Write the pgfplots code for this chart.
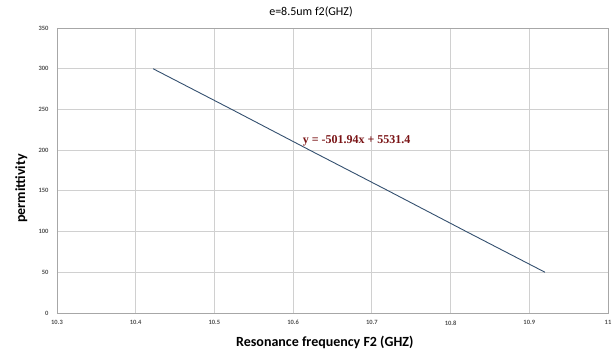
\documentclass[border=0pt]{standalone}
\usepackage{pgfplots}
\pgfplotsset{compat=1.18}
\usepackage{fontspec}
\setmainfont{Carlito}
\newfontfamily\eqfont{Liberation Serif}
\definecolor{linecol}{HTML}{34506F}
\definecolor{eqcol}{HTML}{7A1416}
\definecolor{gridcol}{HTML}{D0D0D0}
\definecolor{tickcol}{HTML}{505050}
\begin{document}
\begin{tikzpicture}
\path[use as bounding box] (-57pt,-39pt) rectangle (557pt,313pt);
\begin{axis}[
  at={(0,0)}, anchor=south west,
  scale only axis, width=551pt, height=285pt,
  xmin=10.3, xmax=11, ymin=0, ymax=350,
  xtick={10.3,10.4,10.5,10.6,10.7,10.8,10.9,11},
  xticklabels={10.3,10.4,10.5,10.6,10.7,10.8,10.9,11},
  ytick={0,50,100,150,200,250,300,350},
  grid=major,
  major grid style={gridcol, line width=0.8pt},
  axis line style={gridcol!80!black, line width=0.8pt},
  tick style={draw=none},
  ticklabel style={font=\bfseries\fontsize{6.5}{7}\selectfont, text=tickcol},
  /pgf/number format/assume math mode=true,
  xticklabel style={yshift=-4pt},
  yticklabel style={xshift=-5pt},
  title={e=8.5um f2(GHZ)},
  title style={font=\fontsize{12}{13}\selectfont, at={(axis description cs:0.461,1.024)}, anchor=base},
  xlabel={\textbf{Resonance frequency F2 (GHZ)}},
  xlabel style={font=\fontsize{14}{15}\selectfont, at={(axis description cs:0.486,-0.118)}, anchor=base},
  ylabel={\textbf{permittivity}},
  ylabel style={font=\fontsize{14}{15}\selectfont, at={(axis description cs:-0.058,0.437)}, anchor=base, rotate=0},
  clip=false,
]
\addplot[linecol, line width=0.9pt] coordinates {
  (10.422,300) (10.522,250) (10.621,200) (10.721,150) (10.820,100) (10.920,50)
};
\node[anchor=west, inner sep=0pt, font=\eqfont\bfseries\fontsize{12}{13}\selectfont, text=eqcol] at (axis cs:10.612,212) {y = -501.94x + 5531.4};
\end{axis}
\end{tikzpicture}
\end{document}
